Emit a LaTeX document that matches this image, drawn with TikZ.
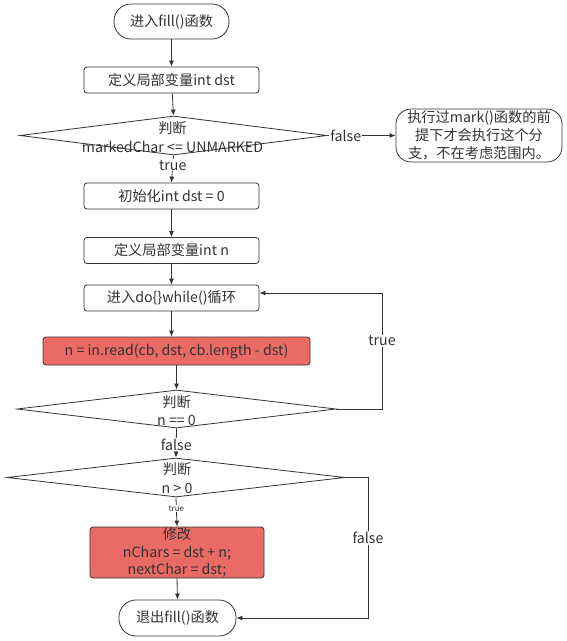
\documentclass[tikz,border=0pt]{standalone}
\usepackage{fontspec}
\setmainfont{Noto Sans CJK SC}
\usetikzlibrary{arrows.meta,shapes.geometric}
\definecolor{ink}{HTML}{333333}
\definecolor{redfill}{HTML}{EA6B66}
\tikzset{
  base/.style={draw=ink, line width=0.8pt, text=ink, font=\fontsize{14.2}{18}\selectfont, inner sep=0pt},
  boxnode/.style={base, rectangle, rounded corners=3pt, minimum width=175pt, minimum height=26pt},
  pill/.style={base, rectangle, rounded corners=17pt, minimum height=35pt},
  redbox/.style={base, rectangle, rounded corners=3pt, fill=redfill},
  dia/.style={draw=ink, line width=0.8pt, diamond, inner sep=0pt},
  dtext/.style={text=ink, font=\fontsize{14.2}{18.5}\selectfont, align=center, inner sep=0pt},
  lbl/.style={text=ink, font=\fontsize{14.2}{15}\selectfont, fill=white, inner sep=1pt},
  arr/.style={draw=ink, line width=0.8pt, -{Latex[length=6pt,width=5pt]}},
}
\begin{document}
\begin{tikzpicture}[x=1pt,y=-1pt]
\useasboundingbox (0,0) rectangle (566,641);
\node[pill, minimum width=115pt] (start) at (171.5,21.5) {进入fill()函数};
\node[boxnode] (b1) at (171.5,80) {定义局部变量int dst};
\node[dia, minimum width=307pt, minimum height=39pt] (d1) at (173.5,135.5) {};
\node[dtext] at (172.5,137) {判断\\markedChar <= UNMARKED};
\node[base, rectangle, rounded corners=15pt, minimum width=166pt, minimum height=53pt, align=center, font=\fontsize{14.2}{17.8}\selectfont] (note) at (479,135.5) {执行过mark()函数的前\\提下才会执行这个分\\支，不在考虑范围内。};
\node[boxnode] (b2) at (171.5,196) {初始化int dst = 0};
\node[boxnode] (b3) at (171.5,250.5) {定义局部变量int n};
\node[boxnode] (b4) at (171.5,298) {进入do\{\}while()循环};
\node[redbox, minimum width=267pt, minimum height=28pt] (r1) at (176.5,351) {n = in.read(cb, dst, cb.length - dst)};
\node[dia, minimum width=319pt, minimum height=38pt] (d2) at (176.5,409) {};
\node[dtext] at (176.5,410.5) {判断\\n == 0};
\node[dia, minimum width=338pt, minimum height=39pt] (d3) at (176,477.5) {};
\node[dtext] at (177,478) {判断\\n > 0};
\node[redbox, minimum width=174pt, minimum height=51pt, align=center, font=\fontsize{14.2}{17.5}\selectfont] (r2) at (177,552.5) {修改\\nChars = dst + n;\\nextChar = dst;};
\node[pill, minimum width=117pt, minimum height=36pt] (exit) at (177.5,618) {退出fill()函数};
\coordinate (c1) at (382,409);
\coordinate (c2) at (382,293);
\coordinate (c3) at (368,477.5);
\coordinate (c4) at (368,618);

\draw[arr] (start) -- (b1);
\draw[arr] (b1) -- (d1.north);
\draw[arr] (d1.east) -- node[lbl, pos=0.27]{false} (note.west);
\draw[arr] (d1.south) -- node[lbl, pos=0.36]{true} (b2.north);
\draw[arr] (b2) -- (b3);
\draw[arr] (b3) -- (b4);
\draw[arr] (b4.south) -- (b4.south |- r1.north);
\draw[arr] (r1.south) -- (d2.north);
\draw[arr] (d2.east) -- (c1) -- node[lbl, pos=0.59]{true} (c2) -- (c2 -| b4.east);
\draw[arr] (d2.south) -- node[lbl, pos=0.55]{false} (d3.north);
\draw[arr] (d3.south) -- node[lbl, pos=0.38, font=\fontsize{8}{9}\selectfont]{true} (r2.north);
\draw[arr] (r2.south) -- (exit.north);
\draw[arr] (d3.east) -- (c3) -- node[lbl, pos=0.43]{false} (c4) -- (exit.east);
\end{tikzpicture}
\end{document}
